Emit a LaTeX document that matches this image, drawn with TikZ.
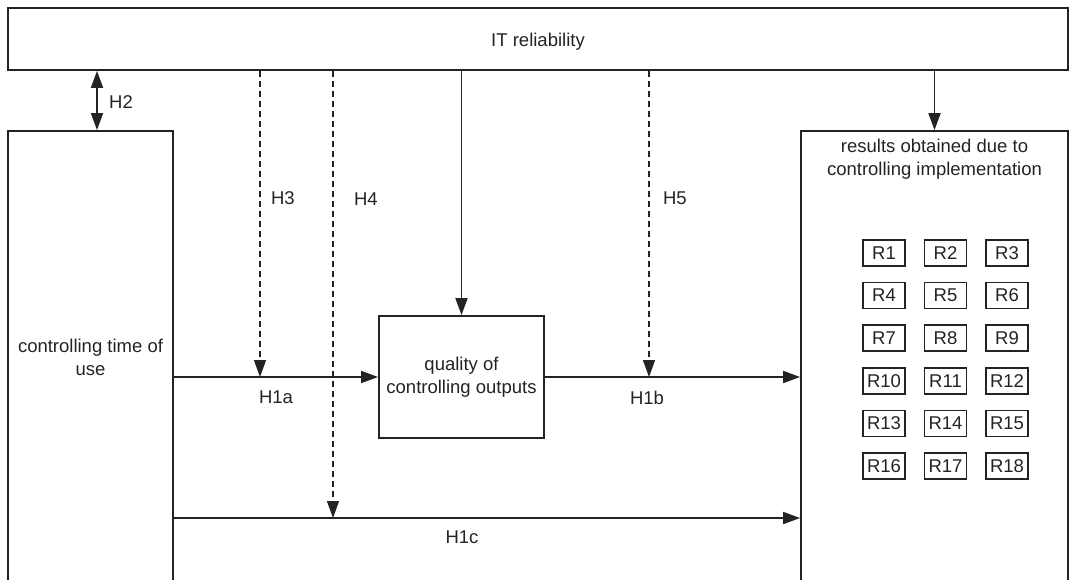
\documentclass[tikz,border=0pt]{standalone}
\usepackage{fontspec}
\setmainfont{Liberation Sans}
\usetikzlibrary{arrows.meta,positioning}
\definecolor{ink}{RGB}{35,35,35}
\tikzset{
  box/.style={draw=ink, line width=1.8pt, align=center, text=ink, inner sep=0pt},
  rbox/.style={draw=ink, line width=1.5pt, minimum width=42pt, minimum height=26pt, inner sep=0pt, text=ink},
  link/.style={draw=ink, line width=1.8pt, ->},
  hyp/.style={link, line width=1.4pt, dash pattern=on 6pt off 4pt},
  lbl/.style={text=ink}
}

\begin{document}
\begin{tikzpicture}[x=1pt, y=-1pt, >={Triangle[length=17pt,width=12pt]},
    font=\fontsize{18.5}{23}\selectfont]
  \useasboundingbox (0,0) rectangle (1070,579);
  \clip (0,0) rectangle (1070,579);

  % boxes
  \node[box, minimum width=1060pt, minimum height=62pt] (itr) at (538,39) {};
  \node[lbl] (itrtitle) at ([yshift=-3pt]itr.center) {IT reliability};
  \node[box, minimum width=165pt, minimum height=452pt] (time) at (90.5,357) {controlling time of\\use};
  \node[box, minimum width=165pt, minimum height=122pt] (qual) at (461.5,377) {quality of\\controlling outputs};
  \node[box, minimum width=267pt, minimum height=453pt] (res) at (934.5,357.5) {};
  \node[lbl, align=center, below=5pt of res.north] (restitle) {results obtained due to\\controlling implementation};

  \foreach \n in {1,...,18}{
    \pgfmathtruncatemacro{\col}{mod(\n-1,3)}
    \pgfmathtruncatemacro{\row}{(\n-1)/3}
    \node[rbox] (r\n) at (884+61.5*\col, 253+42.6*\row) {R\n};
  }

  % x positions of the hypothesis lines
  \coordinate (x2) at (97,0);
  \coordinate (x3) at (260,0);
  \coordinate (x4) at (333,0);
  \coordinate (x5) at (649,0);
  \coordinate (yc) at (0,518);

  % solid links
  \draw[link, <->] (itr.south -| x2) -- (time.north -| x2) node[lbl, midway, right=8pt, yshift=-2pt] {H2};
  \draw[link] (itr.south -| qual.north) -- (qual.north);
  \draw[link] (itr.south -| res.north) -- (res.north);
  \draw[link] (time.east |- qual.west) -- (qual.west) node[lbl, midway, below=10pt] {H1a};
  \draw[link] (qual.east) -- (qual.east -| res.west) node[lbl, pos=.4, below=10pt] {H1b};
  \draw[link] (time.east |- yc) -- (res.west |- yc) node[lbl, pos=.46, below=9pt] {H1c};

  % moderating hypotheses
  \draw[hyp] (itr.south -| x3) -- (x3 |- qual.west) node[lbl, pos=.417, right=7pt] {H3};
  \draw[hyp] (itr.south -| x4) -- (x4 |- yc) node[lbl, pos=.286, right=17pt] {H4};
  \draw[hyp] (itr.south -| x5) -- (x5 |- qual.east) node[lbl, pos=.417, right=10pt] {H5};
\end{tikzpicture}
\end{document}
